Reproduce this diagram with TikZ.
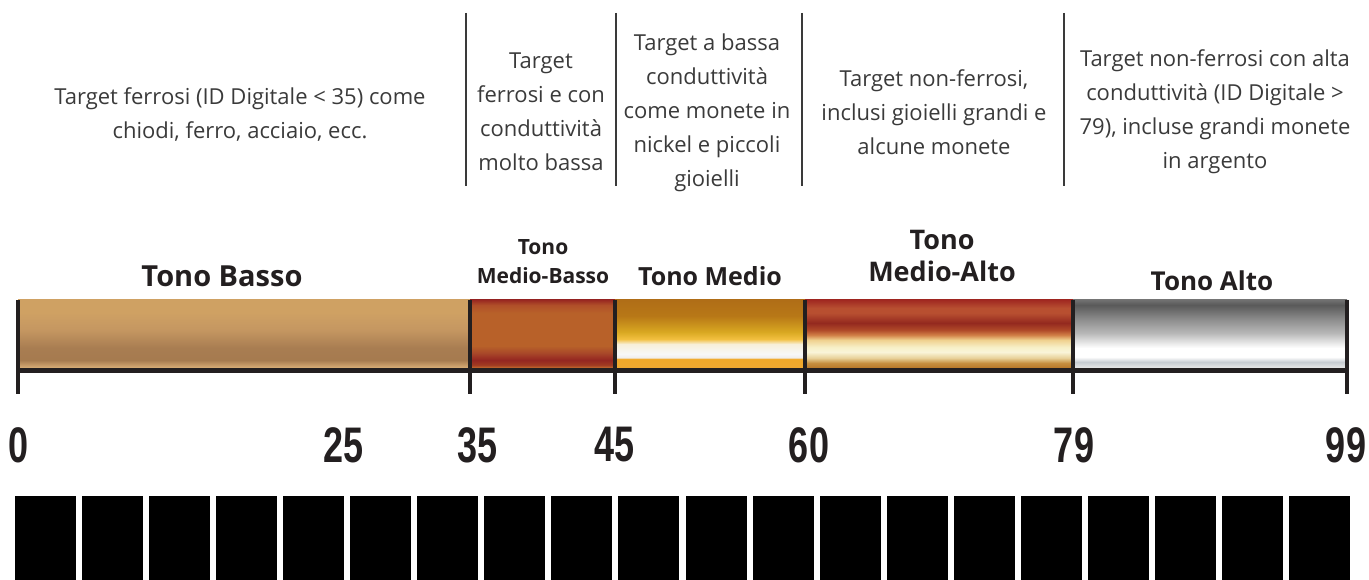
\documentclass[tikz,border=0pt]{standalone}
\usepackage{fontspec}
\newfontfamily\descfont{Open Sans}
\newfontfamily\numfont{Liberation Sans}
\definecolor{ink}{HTML}{231F20}
\definecolor{desctext}{HTML}{3A3A3A}

% vertical colour bands of the tone bar, bottom (25bp) to top (75bp)
\pgfdeclareverticalshading{tanbar}{100bp}{rgb(0bp)=(0.85,0.69,0.47); rgb(25bp)=(0.85,0.69,0.47); rgb(27.2bp)=(0.78,0.61,0.41); rgb(30.9bp)=(0.65,0.48,0.31); rgb(39.7bp)=(0.66,0.49,0.32); rgb(52.9bp)=(0.77,0.59,0.38); rgb(65.4bp)=(0.81,0.63,0.39); rgb(100bp)=(0.81,0.63,0.39)}
\pgfdeclareverticalshading{rustbar}{100bp}{rgb(0bp)=(0.78,0.44,0.19); rgb(25bp)=(0.78,0.44,0.19); rgb(27.2bp)=(0.63,0.23,0.13); rgb(30.9bp)=(0.58,0.15,0.13); rgb(36bp)=(0.66,0.28,0.16); rgb(41.2bp)=(0.72,0.38,0.16); rgb(65.4bp)=(0.72,0.38,0.16); rgb(71.3bp)=(0.69,0.31,0.16); rgb(75bp)=(0.60,0.16,0.13); rgb(100bp)=(0.60,0.16,0.13)}
\pgfdeclareverticalshading{goldbar}{100bp}{rgb(0bp)=(0.94,0.66,0.19); rgb(25bp)=(0.94,0.66,0.19); rgb(31.6bp)=(0.94,0.66,0.16); rgb(32.7bp)=(0.94,0.93,0.92); rgb(35.3bp)=(0.97,0.97,0.97); rgb(42.6bp)=(0.97,0.94,0.85); rgb(46.3bp)=(0.95,0.75,0.25); rgb(51.5bp)=(0.85,0.66,0.13); rgb(63.2bp)=(0.72,0.47,0.09); rgb(75bp)=(0.69,0.43,0.09); rgb(100bp)=(0.69,0.43,0.09)}
\pgfdeclareverticalshading{creambar}{100bp}{rgb(0bp)=(0.72,0.47,0.16); rgb(25bp)=(0.72,0.47,0.16); rgb(28.7bp)=(0.78,0.56,0.25); rgb(32.4bp)=(0.91,0.82,0.60); rgb(36.8bp)=(0.98,0.96,0.85); rgb(40.4bp)=(0.97,0.94,0.78); rgb(45.6bp)=(0.94,0.82,0.56); rgb(49.3bp)=(0.82,0.50,0.28); rgb(52.9bp)=(0.69,0.29,0.16); rgb(58.1bp)=(0.58,0.16,0.12); rgb(65.4bp)=(0.72,0.31,0.19); rgb(69.1bp)=(0.72,0.31,0.19); rgb(75bp)=(0.63,0.16,0.13); rgb(100bp)=(0.63,0.16,0.13)}
\pgfdeclareverticalshading{silverbar}{100bp}{gray(0bp)=(0.91); gray(25bp)=(0.91); rgb(29.4bp)=(0.78,0.80,0.82); gray(33.1bp)=(1); gray(39.7bp)=(1); gray(43.4bp)=(0.91); gray(50.7bp)=(0.72); gray(60.3bp)=(0.56); gray(71.3bp)=(0.35); gray(75bp)=(0.44); gray(100bp)=(0.44)}

\begin{document}
\begin{tikzpicture}
  [x=1pt,y=-1pt,
   desc/.style={align=center,text=desctext,font=\descfont\fontsize{22}{34}\selectfont},
   tone/.style 2 args={align=center,text=ink,font=\descfont\bfseries\fontsize{#1}{#2}\selectfont},
   num/.style={text=ink,inner sep=0pt,xscale=0.72,font=\numfont\bfseries\fontsize{50}{50}\selectfont},
   sepline/.style={draw=desctext,line width=1.3pt},
   tick/.style={draw=ink,line width=4pt},
   axisline/.style={draw=ink,line width=5pt}]
  \useasboundingbox (0,0) rectangle (1369,580);

  % descriptions
  \node[desc] (dlow) at (240,115) {Target ferrosi (ID Digitale < 35) come\\chiodi, ferro, acciaio, ecc.};
  \node[desc] (dlowmid) at (541,112) {Target\\ferrosi e con\\conduttività\\molto bassa};
  \node[desc] (dmid) at (707,113) {Target a bassa\\conduttività\\come monete in\\nickel e piccoli\\gioielli};
  \node[desc] (dmidhigh) at (934,112) {Target non-ferrosi,\\inclusi gioielli grandi e\\alcune monete};
  \node[desc] (dhigh) at (1215,112) {Target non-ferrosi con alta\\conduttività (ID Digitale >\\79), incluse grandi monete\\in argento};

  \draw[sepline] (466,13) -- (466,186);
  \draw[sepline] (616,13) -- (616,186);
  \draw[sepline] (802,13) -- (802,186);
  \draw[sepline] (1064,13) -- (1064,186);

  % tones
  \node[tone={29}{33}] (tlow) at (222,276) {Tono Basso};
  \node[tone={21}{29}] (tlowmid) at (543,262) {Tono\\Medio-Basso};
  \node[tone={25}{30}] (tmid) at (710,276) {Tono Medio};
  \node[tone={27}{32}] (tmidhigh) at (942,256) {Tono\\Medio-Alto};
  \node[tone={26}{30}] (thigh) at (1212,281) {Tono Alto};

  % bar
  \shade[shading=tanbar] (18,300) rectangle (470,368);
  \shade[shading=rustbar] (470,300) rectangle (615,368);
  \shade[shading=goldbar] (615,300) rectangle (805,368);
  \shade[shading=creambar] (805,300) rectangle (1073,368);
  \shade[shading=silverbar] (1073,300) rectangle (1347,368);

  \draw[axisline] (18,370.5) -- (1347,370.5);
  \foreach \x in {18,470,615,805,1073,1347}
    \draw[tick] (\x,300) -- (\x,394);

  % numbers
  \node[num] (v0) at (19,445) {0};
  \node[num] (v25) at (344,445) {25};
  \node[num] (v35) at (478,445) {35};
  \node[num] (v45) at (615,445) {45};
  \node[num] (v60) at (809,445) {60};
  \node[num] (v79) at (1074,445) {79};
  \node[num] (v99) at (1346,445) {99};

  % blocks
  \foreach \i in {0,...,19}
    \fill[black] ({15+67.05*\i},496) rectangle ++(61,84);
\end{tikzpicture}
\end{document}
